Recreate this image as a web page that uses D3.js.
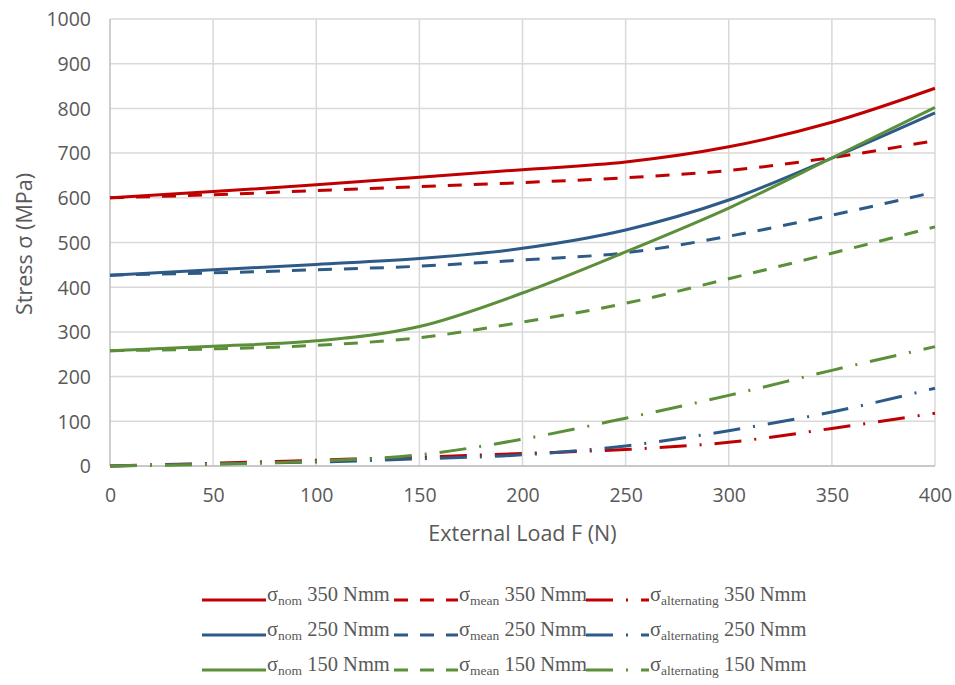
<!DOCTYPE html>
<html>
<head>
<meta charset="utf-8">
<script src="https://cdn.jsdelivr.net/npm/d3@7"></script>
<style>
  body { margin: 0; background: #fff; }
  svg { display: block; }
</style>
</head>
<body>
<div id="chart"></div>
<script>
// External load F (N)
const loads = [0, 50, 100, 150, 200, 250, 300, 350, 400];

// 350 Nmm
const nom350 = [600, 614, 629, 646, 663, 680, 714, 769, 845];
const mean350 = [600, 607, 616, 625, 634, 645, 661, 690, 728];
const alt350 = [0, 6, 13, 20, 28, 37, 53, 84, 118];
// 250 Nmm
const nom250 = [427, 439, 451, 464, 487, 528, 595, 689, 790];
const mean250 = [427, 432, 439, 447, 461, 477, 514, 561, 613];
const alt250 = [0, 5, 9, 16, 25, 45, 79, 121, 174];
// 150 Nmm
const nom150 = [258, 268, 280, 312, 387, 479, 577, 689, 802];
const mean150 = [258, 262, 270, 287, 322, 364, 419, 476, 535];
const alt150 = [0, 4, 11, 25, 60, 107, 158, 214, 267];

const xTicks = [0, 50, 100, 150, 200, 250, 300, 350, 400];
const yTicks = [0, 100, 200, 300, 400, 500, 600, 700, 800, 900, 1000];
const torques = ["350 Nmm", "250 Nmm", "150 Nmm"];
const kinds = ["nom", "mean", "alternating"];

const colors = { "350 Nmm": "#c00000", "250 Nmm": "#2e5a88", "150 Nmm": "#5b8f3a" };
const dashes = { nom: null, mean: "14,12", alternating: "27,13,2,13" };

const series = [
  { torque: "350 Nmm", kind: "nom", values: nom350 },
  { torque: "350 Nmm", kind: "mean", values: mean350 },
  { torque: "350 Nmm", kind: "alternating", values: alt350 },
  { torque: "250 Nmm", kind: "nom", values: nom250 },
  { torque: "250 Nmm", kind: "mean", values: mean250 },
  { torque: "250 Nmm", kind: "alternating", values: alt250 },
  { torque: "150 Nmm", kind: "nom", values: nom150 },
  { torque: "150 Nmm", kind: "mean", values: mean150 },
  { torque: "150 Nmm", kind: "alternating", values: alt150 }
];

const width = 955, height = 685;
const plot = { left: 110, right: 935, top: 19, bottom: 466 };
const axisFont = "'Open Sans', 'Noto Sans', sans-serif";
const textGrey = "#595959";

const svg = d3.select("#chart").append("svg")
    .attr("width", width)
    .attr("height", height);

const x = d3.scaleLinear().domain([0, 400]).range([plot.left, plot.right]);
const y = d3.scaleLinear().domain([0, 1000]).range([plot.bottom, plot.top]);

// gridlines
svg.append("g")
  .selectAll("line")
  .data(yTicks)
  .enter().append("line")
    .attr("x1", plot.left).attr("x2", plot.right)
    .attr("y1", d => y(d)).attr("y2", d => y(d))
    .attr("stroke", "#d9d9d9")
    .attr("stroke-width", 1.5);

svg.append("g")
  .selectAll("line")
  .data(xTicks)
  .enter().append("line")
    .attr("x1", d => x(d)).attr("x2", d => x(d))
    .attr("y1", plot.top).attr("y2", plot.bottom)
    .attr("stroke", d => d === 0 ? "#bfbfbf" : "#d9d9d9")
    .attr("stroke-width", 1.5);

svg.append("line")
    .attr("x1", plot.left).attr("x2", plot.right)
    .attr("y1", plot.bottom).attr("y2", plot.bottom)
    .attr("stroke", "#bfbfbf")
    .attr("stroke-width", 1.5);

// axes (labels only, Excel style)
const yAxis = svg.append("g")
    .attr("transform", "translate(" + (plot.left - 19) + ",0)")
    .call(d3.axisLeft(y).tickValues(yTicks).tickFormat(d3.format("d")).tickSize(0).tickPadding(0));
yAxis.select(".domain").remove();
yAxis.selectAll("text")
    .attr("dy", "0.35em")
    .style("font-family", axisFont)
    .style("font-size", "19.5px")
    .style("fill", textGrey);

const xAxis = svg.append("g")
    .attr("transform", "translate(0," + (plot.bottom + 21) + ")")
    .call(d3.axisBottom(x).tickValues(xTicks).tickFormat(d3.format("d")).tickSize(0).tickPadding(0));
xAxis.select(".domain").remove();
xAxis.selectAll("text")
    .attr("dy", "0.75em")
    .style("font-family", axisFont)
    .style("font-size", "19.5px")
    .style("fill", textGrey);

svg.append("text")
    .attr("x", (plot.left + plot.right) / 2)
    .attr("y", 541)
    .attr("text-anchor", "middle")
    .style("font-family", axisFont)
    .style("font-size", "21.5px")
    .style("fill", textGrey)
    .text("External Load F (N)");

svg.append("text")
    .attr("transform", "translate(32,244)rotate(-90)")
    .attr("text-anchor", "middle")
    .style("font-family", axisFont)
    .style("font-size", "21.5px")
    .style("fill", textGrey)
    .text("Stress σ (MPa)");

// lines
const line = d3.line()
    .x((d, i) => x(loads[i]))
    .y(d => y(d))
    .curve(d3.curveMonotoneX);

svg.append("g")
  .selectAll("path")
  .data(series)
  .enter().append("path")
    .attr("d", d => line(d.values))
    .attr("fill", "none")
    .attr("stroke", d => colors[d.torque])
    .attr("stroke-width", 3)
    .attr("stroke-dasharray", d => dashes[d.kind]);

// legend
const legendCols = [
  { x0: 202, x1: 266, tx: 267 },
  { x0: 394, x1: 458, tx: 459 },
  { x0: 586, x1: 649, tx: 650 }
];
const legendRows = [600, 635, 670];
const serif = "'Liberation Serif', 'Times New Roman', serif";

const legend = svg.append("g")
  .selectAll("g")
  .data(series)
  .enter().append("g")
    .attr("transform", d => "translate(0," + legendRows[torques.indexOf(d.torque)] + ")");

legend.append("line")
    .attr("x1", d => legendCols[kinds.indexOf(d.kind)].x0)
    .attr("x2", d => legendCols[kinds.indexOf(d.kind)].x1)
    .attr("stroke", d => colors[d.torque])
    .attr("stroke-width", 3)
    .attr("stroke-dasharray", d => dashes[d.kind]);

const lt = legend.append("text")
    .attr("x", d => legendCols[kinds.indexOf(d.kind)].tx)
    .attr("y", 1)
    .style("font-family", serif)
    .style("font-size", "20.5px")
    .style("fill", textGrey);
lt.append("tspan").text("σ");
lt.append("tspan")
    .attr("dy", 4)
    .style("font-size", "13.5px")
    .text(d => d.kind);
lt.append("tspan")
    .attr("dy", -4)
    .text(d => " " + d.torque);
</script>
</body>
</html>
